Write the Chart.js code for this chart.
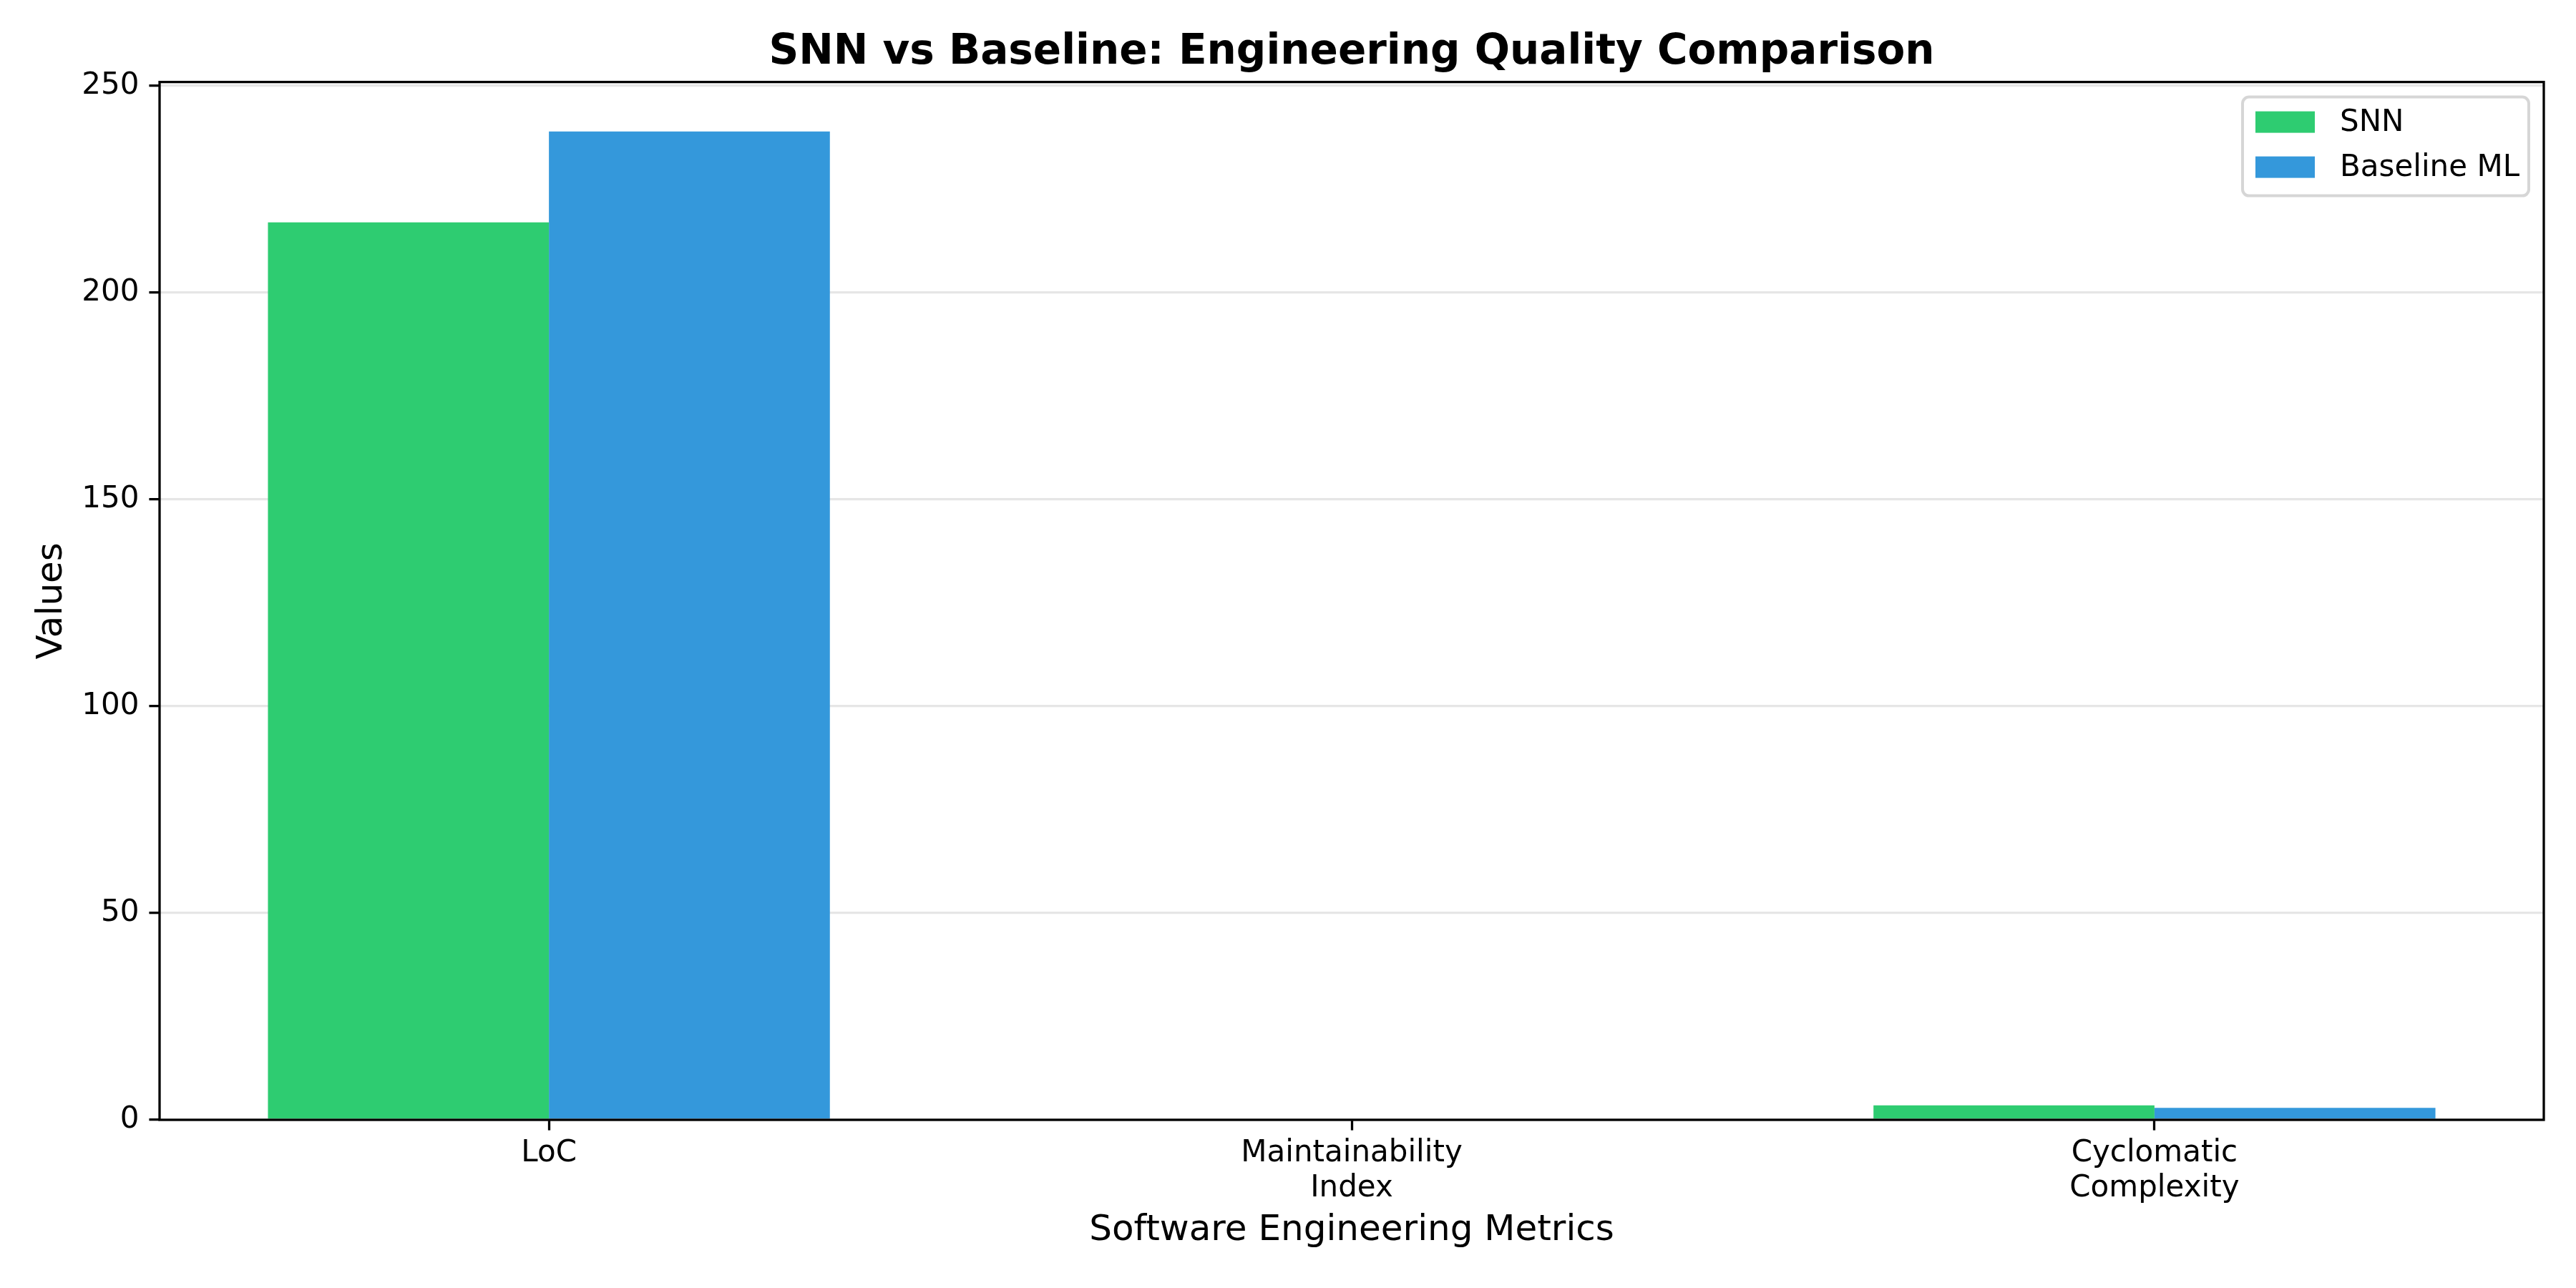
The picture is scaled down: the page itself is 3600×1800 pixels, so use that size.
<!DOCTYPE html>
<html>
<head>
<meta charset="utf-8">
<script src="https://cdn.jsdelivr.net/npm/chart.js@4.4.1/dist/chart.umd.min.js"></script>
<style>
  body { margin: 0; background: #fff; }
  #wrap { width: 3600px; height: 1800px; }
</style>
</head>
<body>
<div id="wrap"><canvas id="qualityChart"></canvas></div>
<script>
// metrics on the x axis
var metricLabels = [['LoC'], ['Maintainability', 'Index'], ['Cyclomatic', 'Complexity']];
var snnValues = [217, 0, 3.5];
var baselineValues = [239, 0, 2.9];
var yTicks = [0, 50, 100, 150, 200, 250];

var seriesNames = ['SNN', 'Baseline ML'];
var seriesColors = ['#2ecc71', '#3498db'];

Chart.defaults.font.family = "'DejaVu Sans', sans-serif";
Chart.defaults.color = '#000';

// black box round the plot, drawn above the bars like matplotlib spines
var framePlugin = {
    id: 'frame',
    afterDatasetsDraw: function(chart) {
        var a = chart.chartArea, c = chart.ctx;
        c.save();
        c.strokeStyle = '#000';
        c.lineWidth = 3.3;
        c.strokeRect(a.left, a.top, a.right - a.left, a.bottom - a.top);
        c.restore();
    }
};

// legend box in the upper right corner of the plot
var boxLegend = {
    id: 'boxLegend',
    afterDraw: function(chart) {
        var a = chart.chartArea, c = chart.ctx;
        var sets = chart.data.datasets;
        c.save();
        c.font = "42px 'DejaVu Sans'";
        var w = 400, h = 138;
        var x = a.right - 21 - w, y = a.top + 21;
        c.beginPath();
        c.roundRect(x, y, w, h, 9);
        c.fillStyle = 'rgba(255,255,255,0.8)';
        c.fill();
        c.strokeStyle = '#d6d6d6';
        c.lineWidth = 4;
        c.stroke();
        c.textBaseline = 'middle';
        c.textAlign = 'left';
        sets.forEach(function(d, i) {
            var cy = y + 35 + i * 63;
            c.fillStyle = d.backgroundColor;
            c.fillRect(x + 18, cy - 15, 83, 30);
            c.fillStyle = '#000';
            c.fillText(d.label, x + 136, cy + 1);
        });
        c.restore();
    }
};

var ctx = document.getElementById('qualityChart');
var qualityChart = new Chart(ctx, {
    type: 'bar',
    data: {
        datasets: [
            {
                label: seriesNames[0],
                backgroundColor: seriesColors[0],
                borderWidth: 0,
                data: snnValues.map(function(v, i) { return {x: i, y: v}; })
            },
            {
                label: seriesNames[1],
                backgroundColor: seriesColors[1],
                borderWidth: 0,
                data: baselineValues.map(function(v, i) { return {x: i, y: v}; })
            }
        ]
    },
    options: {
        responsive: true,
        maintainAspectRatio: false,
        animation: false,
        categoryPercentage: 0.7,
        barPercentage: 1.0,
        layout: { padding: { left: 0, right: 45, top: 0, bottom: 0 } },
        plugins: {
            legend: { display: false },
            tooltip: { enabled: false },
            title: {
                display: true,
                fullSize: false,
                text: 'SNN vs Baseline: Engineering Quality Comparison',
                color: '#000',
                font: { size: 58, weight: 'bold' },
                padding: { top: 39, bottom: 6 }
            }
        },
        scales: {
            x: {
                type: 'linear',
                bounds: 'data',
                offset: false,
                min: -0.485,
                max: 2.485,
                afterFit: function(s) { s.height = 235; },
                afterBuildTicks: function(s) {
                    s.ticks = metricLabels.map(function(l, i) { return {value: i}; });
                },
                grid: {
                    offset: false,
                    drawOnChartArea: false,
                    drawTicks: true,
                    tickLength: 14.6,
                    tickWidth: 3.3,
                    tickColor: '#000'
                },
                border: { display: false },
                ticks: {
                    autoSkip: false,
                    maxRotation: 0,
                    padding: 8,
                    font: { size: 42, lineHeight: 1.17 },
                    callback: function(v) { return metricLabels[Math.round(v)]; }
                },
                title: {
                    display: true,
                    text: 'Software Engineering Metrics',
                    font: { size: 50 },
                    padding: { top: 0, bottom: 50 }
                }
            },
            y: {
                min: 0,
                max: 250.95,
                afterFit: function(s) { s.width = 223; },
                afterBuildTicks: function(s) { s.ticks = yTicks.map(function(v) { return {value: v}; }); },
                grid: {
                    color: '#e6e6e6',
                    lineWidth: 3.3,
                    tickLength: 14.6,
                    tickWidth: 3.3,
                    tickColor: '#000'
                },
                border: { display: false },
                ticks: {
                    padding: 14,
                    font: { size: 42 }
                },
                title: {
                    display: true,
                    text: 'Values',
                    font: { size: 50 },
                    padding: { top: 43, bottom: 0 }
                }
            }
        }
    },
    plugins: [framePlugin, boxLegend]
});
</script>
</body>
</html>
